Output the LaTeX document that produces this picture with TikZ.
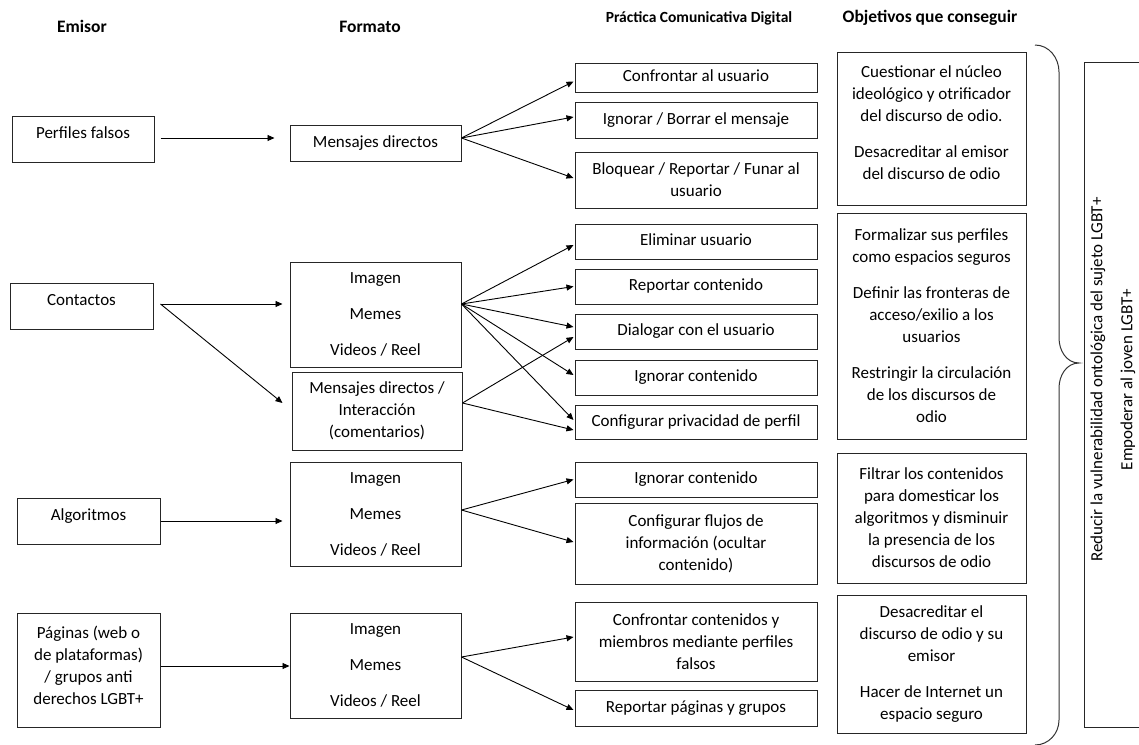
\documentclass[tikz,border=0pt]{standalone}
\usepackage{fontspec}
\setmainfont{Carlito}
\usetikzlibrary{arrows.meta,calc}
\newcommand\lowstrut[1]{\rule[-#1]{0pt}{#1}}
\begin{document}
\begin{tikzpicture}[x=1pt,y=-1pt,
 every node/.style={font=\fontsize{17}{22}\selectfont},
 box/.style={draw=black!85,line width=1pt,rectangle,inner sep=0pt,align=center},
 sl/.style={text height=12pt,text depth=4pt},
 raised/.style={text height=12pt,text depth=14pt},
 emis/.style={box,minimum width=143},
 form/.style={box,minimum width=171},
 prac/.style={box,minimum width=242},
 obj/.style={box,minimum width=189},
 hdr/.style={font=\fontsize{17.5}{20}\selectfont\bfseries,text height=12pt,text depth=3.5pt,inner sep=0pt},
 hdrs/.style={font=\fontsize{15.5}{18}\selectfont\bfseries,text height=11pt,text depth=3pt,inner sep=0pt},
 arr/.style={draw=black,line width=0.9pt,-{Triangle[length=7pt,width=6pt]}},
 brc/.style={draw=black!80,line width=1pt}
]
\path[use as bounding box] (0,0) rectangle (1139,744);
\clip (0,0) rectangle (1139,744);

% headers
\node[hdr] (hE) at (82,28) {Emisor};
\node[hdr] (hF) at (370,28) {Formato};
\node[hdrs] (hP) at (699,18) {Práctica Comunicativa Digital};
\node[hdr] (hO) at (930,18) {Objetivos que conseguir};

% Emisor column
\node[emis,raised,minimum width=142,minimum height=46] (perf) at (83,139) {Perfiles falsos};
\node[emis,raised,minimum height=46] (cont) at (81.5,306) {Contactos};
\node[emis,raised,minimum height=46] (algo) at (88.5,521) {Algoritmos};
\node[emis,minimum height=114] (pag) at (88.5,670) {Páginas (web o\\de plataformas)\\/ grupos anti\\derechos LGBT+\lowstrut{9pt}};

% Formato column
\node[form,sl,minimum height=36] (mens) at (375.5,143) {Mensajes directos};
\node[form,minimum height=105] (img2) at (375.5,314.5) {Imagen\\[14pt]Memes\\[14pt]Videos / Reel};
\node[form,minimum width=170,minimum height=78] (mdi) at (377,411) {Mensajes directos /\\Interacción\\(comentarios)};
\node[form,minimum height=104] (img3) at (375.5,514) {Imagen\\[14pt]Memes\\[14pt]Videos / Reel};
\node[form,minimum height=105] (img4) at (375.5,665.5) {Imagen\\[14pt]Memes\\[14pt]Videos / Reel};

% Practica column
\node[prac,sl,minimum height=29] (p1) at (696,77.5) {Confrontar al usuario};
\node[prac,sl,minimum height=36] (p2) at (696,120) {Ignorar / Borrar el mensaje};
\node[prac,minimum height=56] (p3) at (696,180) {Bloquear / Reportar / Funar al\\usuario};
\node[prac,sl,minimum height=35] (p4) at (696,241.5) {Eliminar usuario};
\node[prac,sl,minimum height=35] (p5) at (696,286.5) {Reportar contenido};
\node[prac,sl,minimum height=35] (p6) at (696,331.5) {Dialogar con el usuario};
\node[prac,sl,minimum height=35] (p7) at (696,377.5) {Ignorar contenido};
\node[prac,sl,minimum height=34] (p8) at (696,422) {Configurar privacidad de perfil};
\node[prac,sl,minimum height=35] (p9) at (696,479.5) {Ignorar contenido};
\node[prac,minimum height=81] (p10) at (696,543.5) {Configurar flujos de\\información (ocultar\\contenido)};
\node[prac,minimum height=79] (p11) at (696,641.5) {Confrontar contenidos y\\miembros mediante perfiles\\falsos};
\node[prac,sl,minimum height=36] (p12) at (696,708) {Reportar páginas y grupos};

% Objetivos column
\node[obj,minimum height=153] (o1) at (931.5,128.5) {Cuestionar el núcleo\\ideológico y otrificador\\del discurso de odio.\\[14pt]Desacreditar al emisor\\del discurso de odio\lowstrut{11pt}};
\node[obj,minimum height=226] (o2) at (931.5,326) {Formalizar sus perfiles\\como espacios seguros\\[14pt]Definir las fronteras de\\acceso/exilio a los\\usuarios\\[14pt]Restringir la circulación\\de los discursos de\\odio};
\node[obj,minimum height=130] (o3) at (931.5,518) {Filtrar los contenidos\\para domesticar los\\algoritmos y disminuir\\la presencia de los\\discursos de odio};
\node[obj,minimum height=138] (o4) at (931.5,664) {Desacreditar el\\discurso de odio y su\\emisor\\[14pt]Hacer de Internet un\\espacio seguro};

% right box (rotated text)
\node[box,rotate=90,minimum width=665,minimum height=58] (rbox) at (1113,394.5)
 {\hspace*{30pt}Reducir la vulnerabilidad ontológica del sujeto LGBT+\\[8pt]\hspace*{30pt}Empoderar al joven LGBT+};

% brace
\draw[brc] (1035,45) to[out=0,in=90] (1059,72) -- (1059,338) to[out=-90,in=180] (1079,363)
 to[out=180,in=90] (1059,388) -- (1059,720) to[out=-90,in=0] (1035,745);

% Emisor -> Formato
\draw[arr] ($(perf.east)+(6,-1)$) -- ($(mens.west)+(-15,-5)$);
\coordinate (c0) at ($(cont.east)+(7,-2)$);
\draw[arr] (c0) -- ($(img2.west)+(-7,-10.5)$);
\draw[arr] (c0) -- ($(mdi.west)+(-9,-8)$);
\draw[arr] (algo.east) -- ($(img3.west)+(-7,7)$);
\draw[arr] ($(pag.east)+(0,-4)$) -- ($(img4.west)+(0,0.5)$);

% Formato -> Practica
\coordinate (f1) at ($(mens.east)+(0,-5)$);
\draw[arr] (f1) -- ($(p1.west)+(-1,4)$);
\draw[arr] (f1) -- ($(p2.west)+(-1,-3)$);
\draw[arr] (f1) -- ($(p3.west)+(-1,-2)$);

\coordinate (f2) at ($(img2.east)+(0,-10.5)$);
\draw[arr] (f2) -- ($(p4.west)+(-1,3.5)$);
\draw[arr] (f2) -- ($(p5.west)+(-1,0)$);
\draw[arr] (f2) -- ($(p6.west)+(-1,-4.5)$);
\draw[arr] (f2) -- ($(p7.west)+(-1,-2.5)$);
\draw[arr] (f2) -- ($(p8.west)+(-1,-2)$);

\coordinate (f3) at ($(mdi.east)+(0,-8)$);
\draw[arr] (f3) -- ($(p6.west)+(-1,5.5)$);
\draw[arr] (f3) -- ($(p8.west)+(-1,8)$);

\coordinate (f4) at ($(img3.east)+(0,-4)$);
\draw[arr] (f4) -- ($(p9.west)+(-1,0)$);
\draw[arr] (f4) -- ($(p10.west)+(-1,-1.5)$);

\coordinate (f5) at ($(img4.east)+(0,-8.5)$);
\draw[arr] (f5) -- ($(p11.west)+(-1,-4.5)$);
\draw[arr] (f5) -- ($(p12.west)+(-1,2)$);
\end{tikzpicture}
\end{document}
